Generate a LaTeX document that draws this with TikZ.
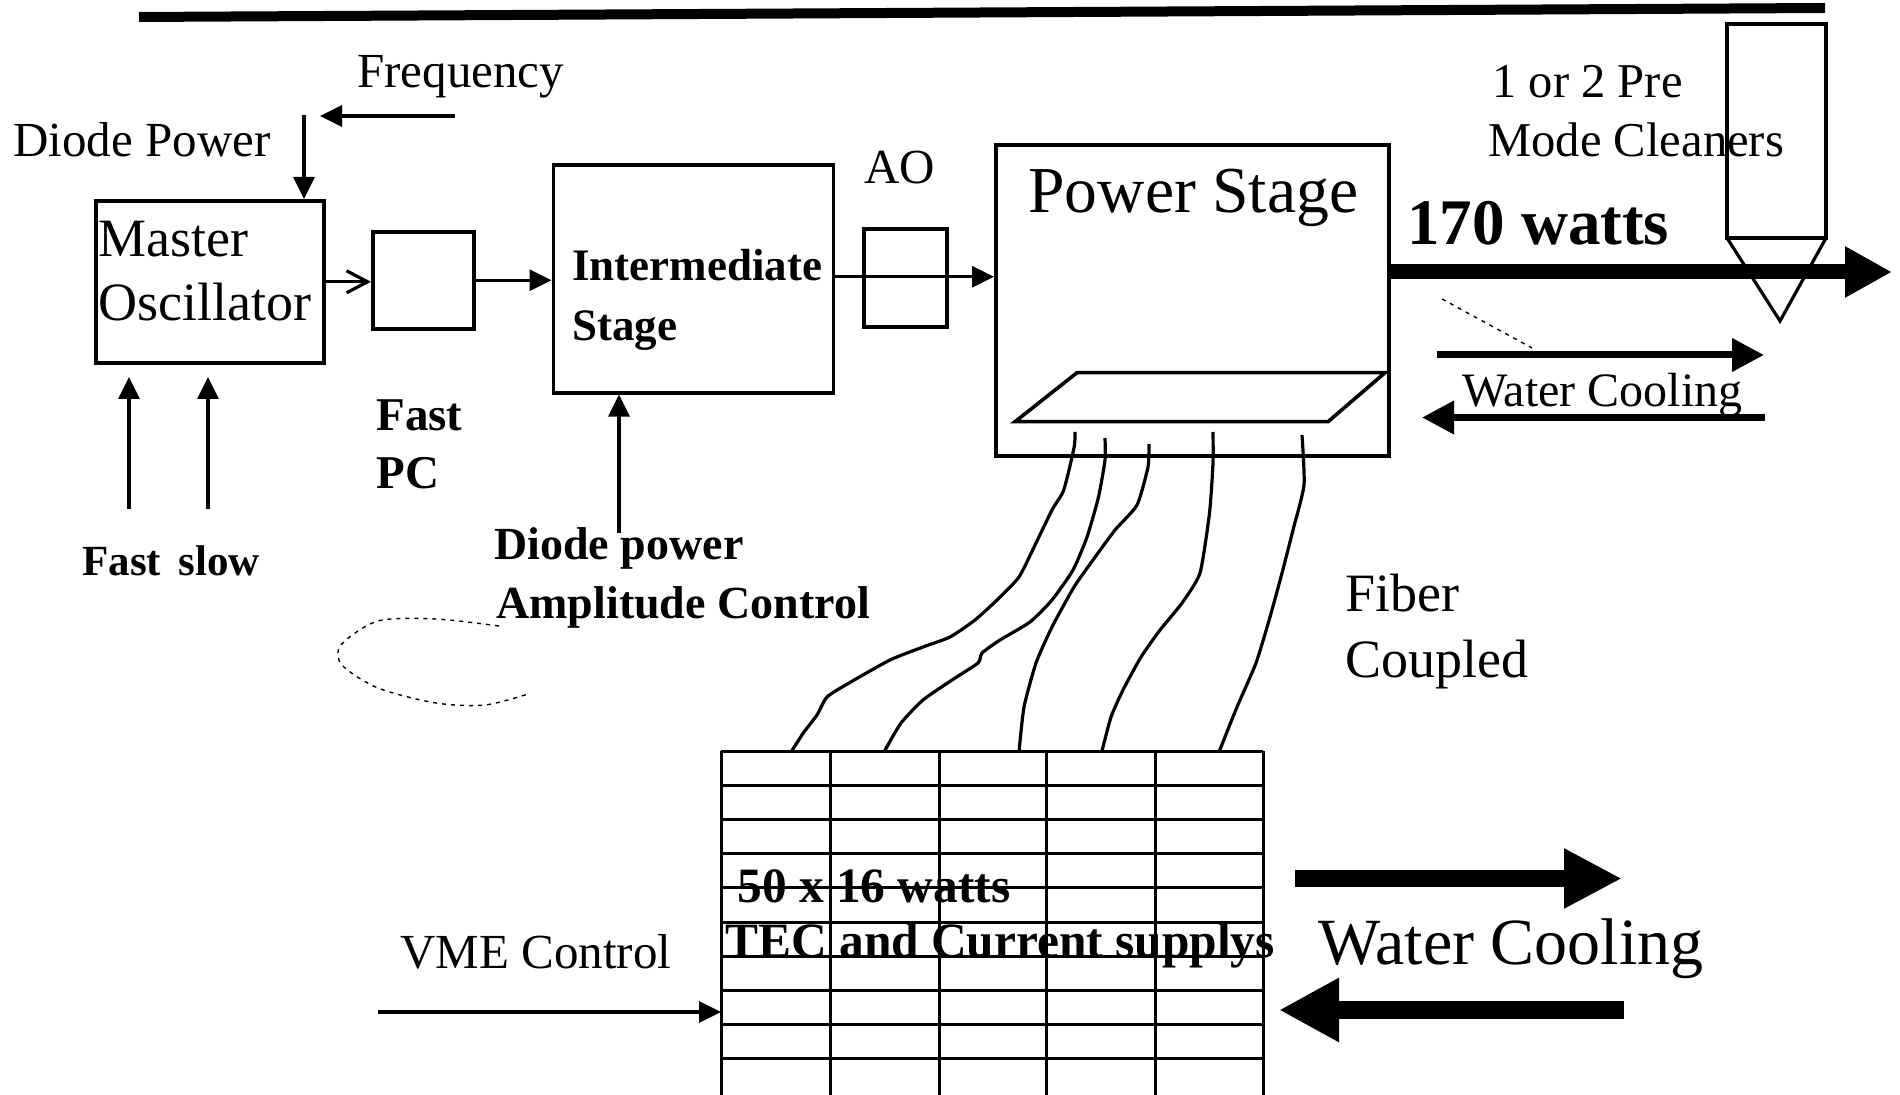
\documentclass[tikz,border=0pt]{standalone}
\usepackage{fontspec}
\setmainfont{Liberation Serif}
\usetikzlibrary{arrows.meta}
\newcommand\fsz[1]{\fontsize{#1pt}{#1pt}\selectfont}
\tikzset{
  box/.style={draw, line width=1.8pt, inner sep=0pt, anchor=north west},
  lbl/.style={inner sep=0pt, anchor=base west},
  sarr/.style={line width=1.6pt, -{Triangle[length=11pt,width=10.5pt]}},
  oarr/.style={line width=1.6pt, -{Straight Barb[length=10.5pt,width=11pt]}},
  warr/.style={line width=3.5pt, -{Triangle[length=16pt,width=16pt]}},
  barr/.style={line width=8.5pt, -{Triangle[length=29pt,width=28pt]}},
  farr/.style={line width=7.5pt, -{Triangle[length=23.5pt,width=24pt]}},
  fiber/.style={line width=1.6pt, line join=round},
  gridline/.style={line width=1.5pt},
  faint/.style={line width=0.7pt, dash pattern=on 2pt off 2.5pt}
}
\begin{document}
\begin{tikzpicture}[x=0.5pt,y=-0.5pt]
\useasboundingbox (0,0) rectangle (1900,1095);
\fill[white] (0,0) rectangle (1900,1095);

% top rule
\draw[line width=5pt] (139,17) -- (1825,8);

% boxes
\node[box, minimum width=114pt, minimum height=81pt] (mo) at (94,199) {};
\node[box, minimum width=50.5pt, minimum height=48.5pt] (pc) at (371,230) {};
\node[box, minimum width=140pt, minimum height=114pt] (int) at (551.5,163) {};
\node[box, minimum width=41.5pt, minimum height=49pt] (ao) at (862,227) {};
\node[box, minimum width=196.5pt, minimum height=155.5pt] (ps) at (994,143) {};
\node[inner sep=0pt, minimum width=271pt, minimum height=172pt, anchor=north west] (grid) at (721,751) {};

% parallelogram in power stage
\draw[line width=1.8pt] (1015,421.7) -- (1077,372.7) -- (1385,372.7) -- (1328,421.7) -- cycle;

% pre mode cleaner
\draw[line width=1.6pt] (1727,238) -- (1727,24) -- (1826,24) -- (1826,238) -- cycle;
\draw[line width=1.6pt] (1727,238) -- (1780,321) -- (1826,238);

% grid
\foreach \x in {721,830,939,1046,1155,1263} \draw[gridline] (\x,751) -- (\x,1095);
\foreach \k in {0,...,9} \draw[gridline] (721,751+34.2*\k) -- (1263,751+34.2*\k);

% labels
\node[lbl, font=\fsz{24.5}] (freq) at (357,88) {Frequency};
\node[lbl, font=\fsz{24.5}] (dpw) at (13,157) {Diode Power};
\node[lbl, font=\fsz{27}] (mot1) at (98,257) {Master};
\node[lbl, font=\fsz{27}] (mot2) at (98,321) {Oscillator};
\node[lbl, font=\bfseries\fsz{22.5}] (it1) at (572,281) {Intermediate};
\node[lbl, font=\bfseries\fsz{22.5}] (it2) at (572,341) {Stage};
\node[lbl, font=\fsz{24.5}] (aot) at (864,184) {AO};
\node[lbl, font=\fsz{32.8}] (pst) at (1028,213) {Power Stage};
\node[lbl, font=\bfseries\fsz{32.5}] (watt) at (1407,245) {170 watts};
\node[lbl, font=\fsz{24.3}] (pm1) at (1492,98) {1 or 2 Pre};
\node[lbl, font=\fsz{24.3}] (pm2) at (1488,157) {Mode Cleaners};
\node[lbl, font=\fsz{24}] (wc1) at (1462,407) {Water Cooling};
\node[lbl, font=\bfseries\fsz{23.5}] (fpc1) at (376,431) {Fast};
\node[lbl, font=\bfseries\fsz{23.5}] (fpc2) at (376,489) {PC};
\node[lbl, font=\bfseries\fsz{21.5}] (fs1) at (82,576) {Fast};
\node[lbl, font=\bfseries\fsz{21.5}] (fs2) at (178,576) {slow};
\node[lbl, font=\bfseries\fsz{23}] (dpa1) at (494,560) {Diode power};
\node[lbl, font=\bfseries\fsz{23}] (dpa2) at (496,619) {Amplitude Control};
\node[lbl, font=\fsz{27}] (fc1) at (1345,612) {Fiber};
\node[lbl, font=\fsz{27}] (fc2) at (1345,678) {Coupled};
\node[lbl, font=\fsz{24.5}] (vme) at (400,968) {VME Control};
\node[lbl, font=\bfseries\fsz{24.7}] (g1) at (737,902) {50 x 16 watts};
\node[lbl, font=\bfseries\fsz{24.7}] (g2) at (725,957) {TEC and Current supplys};
\node[lbl, font=\fsz{33}] (wc2) at (1318,964) {Water Cooling};

% arrow end points
\coordinate (fqs) at (455,116);
\coordinate (fqe) at (320,116);
\coordinate (dps) at (304,115);
\coordinate (fa) at (129,509);
\coordinate (sa) at (208,509);
\coordinate (ups) at (129,377);
\coordinate (dpas) at (619,533);
\coordinate (outend) at (1892,272);
\coordinate (w1s) at (1437,355);
\coordinate (w1e) at (1764,355);
\coordinate (w2s) at (1765,417.5);
\coordinate (w2e) at (1422,417.5);
\coordinate (w3s) at (1295,878.5);
\coordinate (w3e) at (1622,878.5);
\coordinate (w4s) at (1624,1010);
\coordinate (w4e) at (1279,1010);
\coordinate (vmes) at (378,1012);

% arrows
\draw[sarr] (fqs) -- (fqe);
\draw[sarr] (dps) -- (dps |- mo.north);
\draw[sarr] (fa) -- (fa |- ups);
\draw[sarr] (sa) -- (sa |- ups);
\draw[oarr] (mo.east) -- (mo.east -| pc.west);
\draw[sarr] (pc.east) -- (pc.east -| int.west);
\draw[sarr] ([yshift=1pt]int.east) -- ([yshift=1pt]int.east -| ps.west);
\draw[sarr] (dpas) -- (dpas |- int.south);
\draw[farr] (ps.east |- outend) -- (outend);
\draw[warr] (w1s) -- (w1e);
\draw[warr] (w2s) -- (w2e);
\draw[barr] (w3s) -- (w3e);
\draw[line width=9pt, -{Triangle[length=30pt,width=30pt]}] (w4s) -- (w4e);
\draw[sarr] (vmes) -- (vmes -| grid.west);

% fibers
\draw[fiber] plot[smooth, tension=0.35] coordinates {(1075,432) (1074.5,445) (1069,470) (1063,492) (1052,510) (1036,543) (1019,577) (997,600) (975,620) (950,637) (923,647) (890,660) (849,683) (827,697) (817,715) (804,732) (791,752)};
\draw[fiber] plot[smooth, tension=0.35] coordinates {(1105,438) (1105,460) (1098.5,497) (1087,537) (1073,570) (1052,600) (1030,622) (1000,640) (982,653) (978,663) (952,680) (923,700) (901,723) (884,752)};
\draw[fiber] plot[smooth, tension=0.35] coordinates {(1149,444) (1148,467) (1137,505) (1115,530) (1093,560) (1074,587) (1052,627) (1036,663) (1024,707) (1019,752)};
\draw[fiber] plot[smooth, tension=0.35] coordinates {(1213,432) (1213,463) (1209.5,513) (1200,573) (1182,603) (1160,630) (1141,657) (1123,690) (1111,717) (1102,751)};
\draw[fiber] plot[smooth, tension=0.35] coordinates {(1302,435) (1304,485) (1293,530) (1282,573) (1270,617) (1256,663) (1237,707) (1219,752)};

% faint marks
\draw[faint] plot[smooth] coordinates {(499,626) (436,619) (378,621) (341,645) (342,665) (378,688) (436,703) (485,705) (528,694)};
\draw[faint] (1442,299) -- (1532,348);
\end{tikzpicture}
\end{document}
